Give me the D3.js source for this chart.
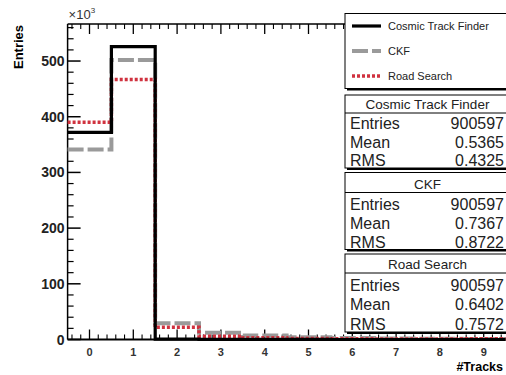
<!DOCTYPE html>
<html>
<head>
<meta charset="utf-8">
<script src="https://cdn.jsdelivr.net/npm/d3@7"></script>
<style>
  html, body { margin: 0; padding: 0; background: #fff; }
  svg { display: block; font-family: "Liberation Sans", Arial, Helvetica, sans-serif; }
</style>
</head>
<body>
<svg id="chart" width="506" height="375"></svg>
<script>
// Track multiplicity per event for three tracking algorithms (entries in units of 10^3)
const bins = [0, 1, 2, 3, 4, 5, 6, 7, 8, 9];
const cosmicTrackFinder = [372, 526, 0.5, 0.3, 0.2, 0.1, 0, 0, 0, 0];
const ckf = [341, 502, 29, 12, 7, 4, 2.5, 2, 1.5, 1];
const roadSearch = [390, 467, 22, 6, 3, 2, 1.5, 1, 1, 1.5];

const yTicks = [0, 100, 200, 300, 400, 500];
const xTicks = [0, 1, 2, 3, 4, 5, 6, 7, 8, 9];

const seriesNames = ["Cosmic Track Finder", "CKF", "Road Search"];
const stats = [
  { name: "Cosmic Track Finder", entries: "900597", mean: "0.5365", rms: "0.4325" },
  { name: "CKF", entries: "900597", mean: "0.7367", rms: "0.8722" },
  { name: "Road Search", entries: "900597", mean: "0.6402", rms: "0.7572" }
];

const styles = {
  "Cosmic Track Finder": { stroke: "#000", width: 3.2, dash: null },
  "CKF": { stroke: "#9a9a9a", width: 4, dash: "16,4" },
  "Road Search": { stroke: "#d0323f", width: 3.5, dash: "3,2" }
};

const svg = d3.select("#chart");

const x = d3.scaleLinear().domain([-0.5, 9.5]).range([67.6, 505.6]);
const y = d3.scaleLinear().domain([0, 566.5]).range([339.5, 24]);

// frame top edge
svg.append("line").attr("x1", x(-0.5)).attr("x2", x(9.5)).attr("y1", y.range()[1]).attr("y2", y.range()[1])
  .attr("stroke", "#000").attr("stroke-width", 1.5);

// y minor/major ticks on the left axis
const yMinor = d3.range(0, 566, 20).filter(v => v % 100 !== 0);
svg.append("g").selectAll("line").data(yMinor).join("line")
  .attr("x1", x(-0.5)).attr("x2", x(-0.5) + 6)
  .attr("y1", d => y(d)).attr("y2", d => y(d))
  .attr("stroke", "#000").attr("stroke-width", 1.2);
svg.append("g").selectAll("line").data(yTicks).join("line")
  .attr("x1", x(-0.5)).attr("x2", x(-0.5) + 13)
  .attr("y1", d => y(d)).attr("y2", d => y(d))
  .attr("stroke", "#000").attr("stroke-width", 1.5);
svg.append("g").selectAll("text").data(yTicks).join("text")
  .attr("x", x(-0.5) - 3).attr("y", d => y(d) + 5)
  .attr("text-anchor", "end").attr("font-size", 14).attr("font-weight", "bold")
  .attr("fill", "#222").text(d => d);

// x ticks bottom and top
const xMinor = d3.range(-0.4, 9.5, 0.2).map(v => +v.toFixed(1)).filter(v => Math.abs(v - Math.round(v)) > 0.01);
[{ y0: y(0), dir: -1 }, { y0: y.range()[1], dir: 1 }].forEach(side => {
  svg.append("g").selectAll("line").data(xMinor).join("line")
    .attr("x1", d => x(d)).attr("x2", d => x(d))
    .attr("y1", side.y0).attr("y2", side.y0 + side.dir * 5)
    .attr("stroke", "#000").attr("stroke-width", 1.1);
  svg.append("g").selectAll("line").data(xTicks).join("line")
    .attr("x1", d => x(d)).attr("x2", d => x(d))
    .attr("y1", side.y0).attr("y2", side.y0 + side.dir * 10)
    .attr("stroke", "#000").attr("stroke-width", 1.3);
});
svg.append("g").selectAll("text").data(xTicks).join("text")
  .attr("x", d => x(d)).attr("y", y(0) + 16)
  .attr("text-anchor", "middle").attr("font-size", 11).attr("font-weight", "bold")
  .attr("fill", "#333").text(d => d);

// axis lines
svg.append("line").attr("x1", x(-0.5)).attr("x2", x(-0.5)).attr("y1", y(0)).attr("y2", y.range()[1])
  .attr("stroke", "#000").attr("stroke-width", 1.5);
svg.append("line").attr("x1", x(-0.5)).attr("x2", x(9.5)).attr("y1", y(0)).attr("y2", y(0))
  .attr("stroke", "#000").attr("stroke-width", 2);

// exponent label
const expo = svg.append("text").attr("x", x(-0.5) + 1).attr("y", 19).attr("font-size", 13).attr("fill", "#333");
expo.append("tspan").text("\u00d710");
expo.append("tspan").attr("dy", -6).attr("font-size", 8).text("3");

// axis titles
svg.append("text").attr("transform", "translate(23,47) rotate(-90)")
  .attr("text-anchor", "middle").attr("font-size", 13).attr("font-weight", "bold").text("Entries");
svg.append("text").attr("x", 503).attr("y", 371).attr("text-anchor", "end")
  .attr("font-size", 12.5).attr("font-weight", "bold").text("#Tracks");

// histogram step outlines
function stepPoints(values) {
  const pts = values.map((v, i) => [bins[i] - 0.5, v]);
  pts.push([bins[bins.length - 1] + 0.5, values[values.length - 1]]);
  return pts;
}
const line = d3.line().x(d => x(d[0])).y(d => y(d[1])).curve(d3.curveStepAfter);
const seriesData = { "Cosmic Track Finder": cosmicTrackFinder, "CKF": ckf, "Road Search": roadSearch };
["CKF", "Road Search", "Cosmic Track Finder"].forEach(name => {
  const s = styles[name];
  svg.append("path").attr("d", line(stepPoints(seriesData[name])))
    .attr("fill", "none").attr("stroke", s.stroke).attr("stroke-width", s.width)
    .attr("stroke-dasharray", s.dash).attr("stroke-linejoin", "miter");
});

// legend box
const boxL = 345, boxR = 512;
function shadowBox(top, bottom) {
  svg.append("rect").attr("x", boxL + 2).attr("y", top + 2).attr("width", boxR - boxL).attr("height", bottom - top)
    .attr("fill", "#000");
  svg.append("rect").attr("x", boxL).attr("y", top).attr("width", boxR - boxL).attr("height", bottom - top)
    .attr("fill", "#fff").attr("stroke", "#000").attr("stroke-width", 1);
}
shadowBox(13.5, 88.5);
const legendY = [26, 51, 76];
seriesNames.forEach((name, i) => {
  const s = styles[name];
  svg.append("line").attr("x1", 352).attr("x2", 381).attr("y1", legendY[i]).attr("y2", legendY[i])
    .attr("stroke", s.stroke).attr("stroke-width", s.width).attr("stroke-dasharray", s.dash);
  svg.append("text").attr("x", 388).attr("y", legendY[i] + 4).attr("font-size", 11).attr("fill", "#222").text(name);
});

// statistics boxes
const statBoxes = [
  { top: 95, sep: 113, bottom: 168 },
  { top: 172.5, sep: 192.5, bottom: 249.5 },
  { top: 254, sep: 273, bottom: 332 }
];
stats.forEach((st, i) => {
  const b = statBoxes[i];
  shadowBox(b.top, b.bottom);
  svg.append("line").attr("x1", boxL).attr("x2", boxR).attr("y1", b.sep).attr("y2", b.sep)
    .attr("stroke", "#000").attr("stroke-width", 1);
  svg.append("text").attr("x", (boxL + boxR) / 2 - 1).attr("y", b.sep - 4).attr("text-anchor", "middle")
    .attr("font-size", 13.5).attr("fill", "#222").text(st.name);
  const rowH = (b.bottom - b.sep) / 3;
  [["Entries", st.entries], ["Mean", st.mean], ["RMS", st.rms]].forEach((r, j) => {
    const ty = b.sep + rowH * (j + 1) - 2;
    svg.append("text").attr("x", 350).attr("y", ty).attr("font-size", 16).attr("fill", "#222").text(r[0]);
    svg.append("text").attr("x", 504).attr("y", ty).attr("text-anchor", "end").attr("font-size", 16)
      .attr("fill", "#222").text(r[1]);
  });
});
</script>
</body>
</html>
